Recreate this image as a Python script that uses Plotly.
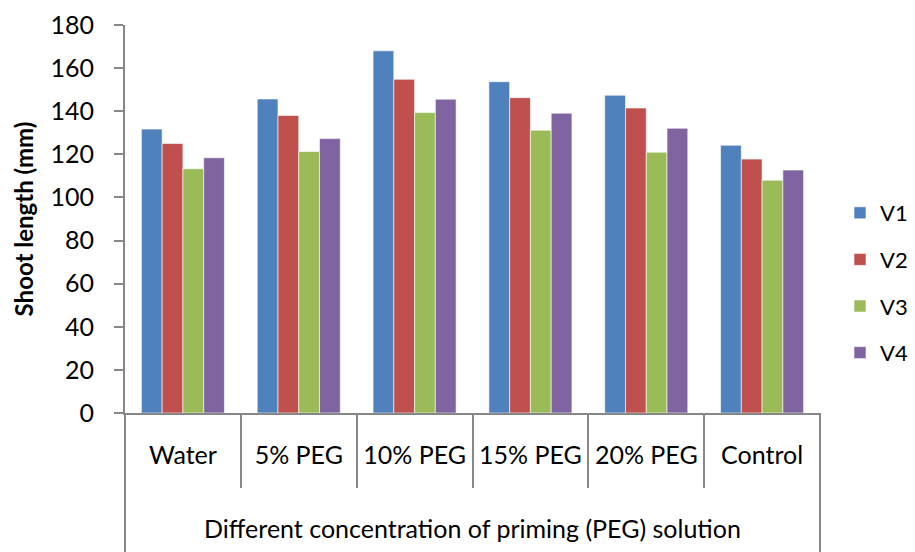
import plotly.graph_objects as go

# Shoot length (mm) for four varieties under different priming treatments
treatments = ["Water", "5% PEG", "10% PEG", "15% PEG", "20% PEG", "Control"]
v1 = [131.7, 145.7, 168.0, 153.7, 147.4, 124.2]
v2 = [125.0, 138.0, 154.8, 146.3, 141.5, 117.8]
v3 = [113.3, 121.3, 139.4, 131.2, 121.0, 108.0]
v4 = [118.4, 127.3, 145.6, 139.1, 132.1, 112.7]
series_names = ["V1", "V2", "V3", "V4"]
series_colors = ["#4F81BD", "#C0504D", "#9BBB59", "#8064A2"]
y_ticks = [0, 20, 40, 60, 80, 100, 120, 140, 160, 180]

FONT = "Lato"
AXIS_GREY = "#878787"

fig = go.Figure()
for name, vals, col in zip(series_names, [v1, v2, v3, v4], series_colors):
    fig.add_trace(go.Bar(
        x=treatments, y=vals, name=name, legendgroup=name,
        marker=dict(color=col, line=dict(color="rgba(255,255,255,0.6)", width=1)),
    ))

W, H = 915, 552
L, T, B = 125, 25, 139
plot_right = 820                      # right edge of the plotting area in px
paper_w = W - L
plot_h = H - T - B
x_domain_end = (plot_right - L) / paper_w

fig.update_layout(
    width=W, height=H,
    margin=dict(l=L, r=0, t=T, b=B, pad=0, autoexpand=False),
    paper_bgcolor="white", plot_bgcolor="white",
    barmode="group", bargap=0.283, bargroupgap=0,
    font=dict(family=FONT, color="black", size=24),
    showlegend=True,
    legend=dict(
        xref="container", yref="container",
        x=840 / W, xanchor="left",
        y=1 - 192 / H, yanchor="top",
        font=dict(size=22, family=FONT),
        traceorder="grouped", tracegroupgap=15,
        itemwidth=30, bgcolor="rgba(0,0,0,0)",
    ),
    xaxis=dict(
        type="category", range=[-0.5, 5.5], domain=[0, x_domain_end], automargin=False,
        showline=True, linecolor=AXIS_GREY, linewidth=2,
        ticks="outside", tickson="boundaries", ticklen=73, tickwidth=2, tickcolor=AXIS_GREY,
        tickfont=dict(size=25, family=FONT), ticklabelstandoff=19,
        showgrid=False, zeroline=False,
        title=dict(text="Different concentration of priming (PEG) solution",
                   font=dict(size=25, family=FONT), standoff=52),
    ),
    yaxis=dict(
        range=[0, 180], tickvals=y_ticks, automargin=False,
        showline=True, linecolor=AXIS_GREY, linewidth=2,
        ticks="outside", ticklen=9, tickwidth=2, tickcolor=AXIS_GREY,
        tickfont=dict(size=25, family=FONT), ticklabelstandoff=15,
        showgrid=False, zeroline=False,
        title=dict(text="<b>Shoot length (mm)</b>", font=dict(size=24, family=FONT), standoff=10),
    ),
)

# outer boundary lines of the category axis running down to the bottom edge
for xpos in [0, x_domain_end]:
    fig.add_shape(type="line", xref="paper", yref="paper",
                  x0=xpos, x1=xpos, y0=0, y1=-(B + 5) / plot_h,
                  line=dict(color=AXIS_GREY, width=2))

fig.write_html("out.html")
